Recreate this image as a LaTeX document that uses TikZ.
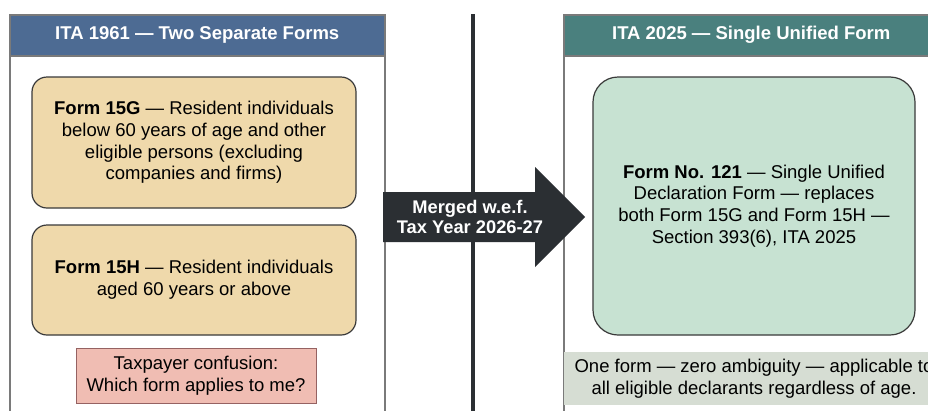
\documentclass[tikz,border=0pt]{standalone}
\usepackage{fontspec}
\setmainfont{Liberation Sans}
\definecolor{panelgray}{HTML}{7A7A7A}
\definecolor{oldhead}{HTML}{4D6B93}
\definecolor{newhead}{HTML}{4A807E}
\definecolor{tanfill}{HTML}{EFD9AB}
\definecolor{greenfill}{HTML}{C7E2D2}
\definecolor{pinkfill}{HTML}{F0BDB3}
\definecolor{bannerfill}{HTML}{D6DDD3}
\definecolor{arrowdark}{HTML}{2B2F33}
\definecolor{boxline}{HTML}{3A3A3A}

\begin{document}
\begin{tikzpicture}[
  x=1pt, y=-1pt,
  font=\fontsize{18.5}{21.8}\selectfont,
  panel/.style={rectangle, anchor=north west, minimum width=375pt, minimum height=420pt, draw=panelgray, line width=1.5pt, fill=white, inner sep=0pt},
  header/.style={rectangle, anchor=north west, minimum width=375pt, minimum height=41pt, draw=panelgray, line width=1.5pt, text=white, font=\fontsize{18.5}{20}\selectfont\bfseries},
  oldform/.style={rectangle, rounded corners=15pt, minimum width=324pt, draw=boxline, line width=1.2pt, fill=tanfill, align=center},
  newform/.style={rectangle, rounded corners=25pt, minimum width=322pt, minimum height=258pt, draw=boxline, line width=1.2pt, fill=greenfill, align=center},
  note/.style={rectangle, minimum width=240pt, minimum height=55pt, draw=panelgray!80!red, line width=1pt, fill=pinkfill, align=center},
  banner/.style={rectangle, minimum width=375pt, minimum height=53pt, fill=bannerfill, inner sep=0pt},
  divider/.style={line width=4pt, draw=arrowdark}
]
\useasboundingbox (0,0) rectangle (928,410);
\clip (0,0) rectangle (928,410);
\fill[white] (0,0) rectangle (928,410);

% left side: ITA 1961
\node (oldpanel) [panel] at (9,14) {};
\node (oldhead) [header, fill=oldhead] at (9,14) {ITA 1961 --- Two Separate Forms};
\node (form15g) [oldform, minimum height=131pt] at (194,142.5) {\textbf{Form 15G} --- Resident individuals\\below 60 years of age and other\\eligible persons (excluding\\companies and firms)};
\node (form15h) [oldform, minimum height=110pt] at (194,280) {\textbf{Form 15H} --- Resident individuals\\aged 60 years or above};
\node (confusion) [note] at (196,375.5) {Taxpayer confusion:\\Which form applies to me?};

% right side: ITA 2025
\node (newpanel) [panel] at (563,14) {};
\node (newhead) [header, fill=newhead] at (563,14) {ITA 2025 --- Single Unified Form};
\node (form121) [newform] at (754,206) {\textbf{Form No. 121} --- Single Unified\\Declaration Form --- replaces\\both Form 15G and Form 15H ---\\Section 393(6), ITA 2025};
\node (bannerbox) [banner] at (751.5,378.5) {};
\node (bannertext) [align=center] at (754,378.5) {One form --- zero ambiguity --- applicable to\\all eligible declarants regardless of age.};

% divider and merge arrow
\coordinate (divtop) at (473,14);
\coordinate (divbot) at (473,420);
\draw [divider] (divtop) -- (divbot);
\fill [arrowdark] (383,192) -- (535,192) -- (535,167) -- (585,217) -- (535,267) -- (535,242) -- (383,242) -- cycle;
\node (merged) [align=center, text=white, font=\fontsize{18.3}{20}\selectfont\bfseries] at (470,217) {Merged w.e.f.\\Tax Year 2026-27};
\end{tikzpicture}
\end{document}
